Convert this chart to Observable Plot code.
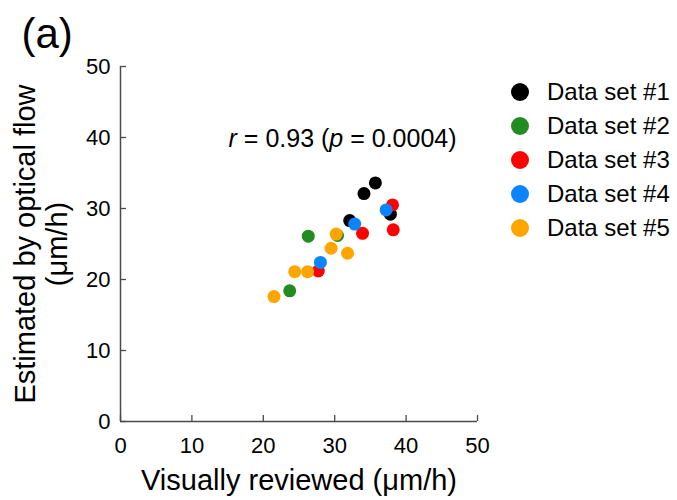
<!DOCTYPE html>
<html><head><meta charset="utf-8">
<script src="https://cdn.jsdelivr.net/npm/d3@7"></script>
<script src="https://cdn.jsdelivr.net/npm/@observablehq/plot@0.6"></script>
<style>
body{margin:0;background:#fff;font-family:"Liberation Sans",Arial,sans-serif}
#wrap{position:relative;width:677px;height:500px}
#legend{position:absolute;left:511px;top:74.5px}
.item{display:flex;align-items:center;height:34.2px;font-size:24px;color:#000;white-space:nowrap}
.sw{width:18px;height:18px;border-radius:50%;margin-right:18px;flex:none}
</style></head><body><div id="wrap"></div>
<script>
const seriesNames = ["Data set #1","Data set #2","Data set #3","Data set #4","Data set #5"];
const seriesColors = ["#000000","#228b22","#ff0000","#0a84ff","#ffa500"];
const set1X = [32.1, 34.1, 35.7, 37.8];
const set1Y = [28.3, 32.1, 33.6, 29.2];
const set2X = [26.3, 23.7, 30.4];
const set2Y = [26.1, 18.4, 26.2];
const set3X = [27.7, 33.9, 38.1, 38.2];
const set3Y = [21.2, 26.5, 30.5, 27.0];
const set4X = [28.0, 32.8, 37.2];
const set4Y = [22.4, 27.8, 29.8];
const set5X = [21.5, 24.4, 26.2, 29.5, 30.2, 31.8];
const set5Y = [17.6, 21.1, 21.1, 24.4, 26.4, 23.7];
const xTicks = [0,10,20,30,40,50];
const yTicks = [0,10,20,30,40,50];
const xTitle = "Visually reviewed (\u03bcm/h)";
const yTitle = "Estimated by optical flow\n(\u03bcm/h)";
const panelLabel = "(a)";
const annoText = "r = 0.93 (p = 0.0004)";
const annoX = [31.1];
const annoY = [38.6];

const allX = [set1X,set2X,set3X,set4X,set5X];
const allY = [set1Y,set2Y,set3Y,set4Y,set5Y];
const points = [];
allX.forEach((xs,s)=>xs.forEach((x,i)=>points.push({x, y: allY[s][i], series: seriesNames[s]})));

const W = 677, H = 500, ML = 120, MR = 200, MT = 66, MB = 79;
const innerW = W-ML-MR, innerH = H-MT-MB;
const axisColor = "#4a4a4a";

const chart = Plot.plot({
  width: W, height: H,
  marginLeft: ML, marginRight: MR, marginTop: MT, marginBottom: MB,
  style: {fontFamily: '"Liberation Sans", Arial, sans-serif', background: "#fff", color: "#000"},
  x: {domain: [0,50]},
  y: {domain: [0,50]},
  color: {domain: seriesNames, range: seriesColors},
  marks: [
    Plot.axisX({ticks: xTicks, tickSize: 0, tickPadding: 16, fontSize: 22, label: null, tickFormat: d=>d}),
    Plot.axisY({ticks: yTicks, tickSize: 0, tickPadding: 10, fontSize: 22, label: null, tickFormat: d=>d}),
    Plot.tickX(xTicks, {x: d=>d, stroke: axisColor, strokeWidth: 1.3, insetTop: innerH-6}),
    Plot.tickY(yTicks, {y: d=>d, stroke: axisColor, strokeWidth: 1.3, insetRight: innerW-6}),
    Plot.ruleX([0], {stroke: axisColor, strokeWidth: 1.5}),
    Plot.ruleY([0], {stroke: axisColor, strokeWidth: 1.5}),
    Plot.dot(points, {x: "x", y: "y", fill: "series", r: 6.5, stroke: "none"}),
    Plot.text([annoText], {x: annoX, y: annoY, text: d=>d, fontSize: 25, textAnchor: "middle", lineAnchor: "bottom", fill: "#000"}),
    Plot.text([xTitle], {frameAnchor: "bottom", text: d=>d, fontSize: 29, textAnchor: "middle", lineAnchor: "middle", dy: 59, fill: "#000"}),
    Plot.text([yTitle], {frameAnchor: "left", text: d=>d, fontSize: 29, textAnchor: "middle", rotate: -90, lineAnchor: "middle", lineHeight: 32/29, dx: -80, fill: "#000"}),
    Plot.text([panelLabel], {frameAnchor: "top-left", text: d=>d, fontSize: 42, textAnchor: "start", lineAnchor: "middle", dx: -99, dy: -32, fill: "#000"})
  ]
});
document.getElementById("wrap").appendChild(chart);

// italicise r and p
d3.select(chart).selectAll("text").filter(function(){return this.textContent === annoText;})
  .each(function(){
    const t = d3.select(this);
    t.text(null);
    [["r",true],[" = 0.93 (",false],["p",true],[" = 0.0004)",false]].forEach(([s,it])=>{
      t.append("tspan").attr("font-style", it ? "italic" : null).text(s);
    });
  });

const legend = document.createElement("div");
legend.id = "legend";
seriesNames.forEach((n,i)=>{
  const it = document.createElement("div"); it.className = "item";
  const sw = document.createElement("span"); sw.className = "sw"; sw.style.background = seriesColors[i];
  const tx = document.createElement("span"); tx.textContent = n;
  it.appendChild(sw); it.appendChild(tx); legend.appendChild(it);
});
document.getElementById("wrap").appendChild(legend);
</script></body></html>
